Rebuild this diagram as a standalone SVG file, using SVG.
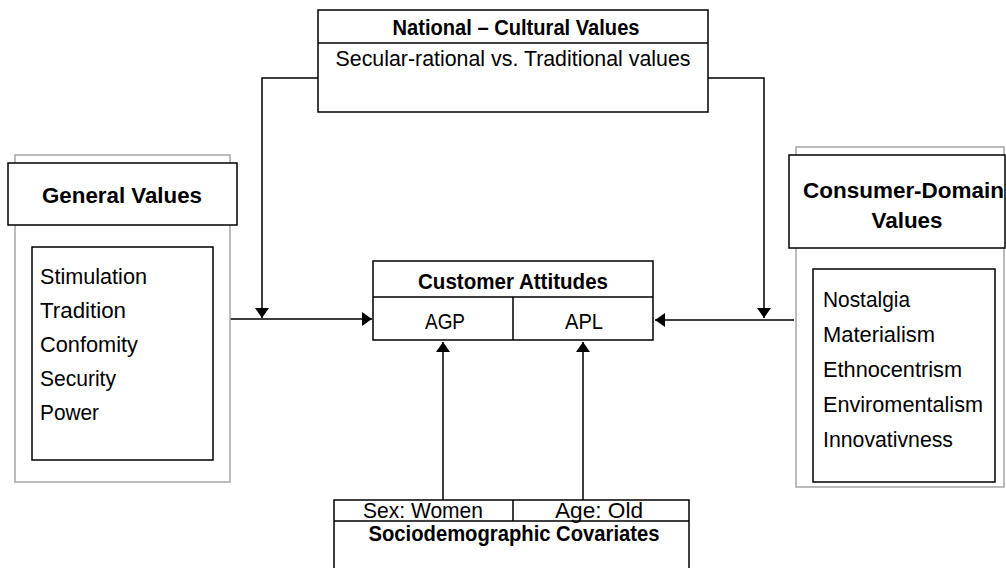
<svg xmlns="http://www.w3.org/2000/svg" width="1006" height="568" viewBox="0 0 1006 568">
  <style>
    .box { fill: #ffffff; stroke: #000000; stroke-width: 1.5; }
    .outer { fill: #ffffff; stroke: #a6a6a6; stroke-width: 1.5; }
    .ln { fill: none; stroke: #000000; stroke-width: 1.5; }
    text { font-family: "Liberation Sans", Arial, sans-serif; font-size: 22px; fill: #000000; }
    .b { font-weight: bold; }
    .c { text-anchor: middle; }
  </style>
  <defs>
    <marker id="arrow" viewBox="0 0 10 14" refX="10" refY="7" markerWidth="10" markerHeight="14" markerUnits="userSpaceOnUse" orient="auto">
      <path d="M0,0 L10,7 L0,14 Z" fill="#000000"/>
    </marker>
  </defs>

  <rect width="1006" height="568" fill="#ffffff"/>

  <!-- connectors -->
  <g id="connectors">
    <path class="ln" d="M318,78 H262 V318" marker-end="url(#arrow)"/>
    <path class="ln" d="M708,78 H764 V318" marker-end="url(#arrow)"/>
    <path class="ln" d="M230,319 H372" marker-end="url(#arrow)"/>
    <path class="ln" d="M794,320 H655" marker-end="url(#arrow)"/>
    <path class="ln" d="M443,500 V342" marker-end="url(#arrow)"/>
    <path class="ln" d="M583,500 V342" marker-end="url(#arrow)"/>
  </g>

  <!-- national-cultural values -->
  <g id="national-cultural">
    <rect class="box" x="318" y="10" width="390" height="102"/>
    <line class="ln" x1="318" y1="43" x2="708" y2="43"/>
    <text class="b c" x="516" y="35" textLength="247" lengthAdjust="spacingAndGlyphs">National – Cultural Values</text>
    <text class="c" x="513" y="66" textLength="355" lengthAdjust="spacingAndGlyphs">Secular-rational vs. Traditional values</text>
  </g>

  <!-- general values -->
  <g id="general-values">
    <rect class="outer" x="15" y="155" width="215" height="327"/>
    <rect class="box" x="8" y="163" width="229" height="62"/>
    <text class="b c" x="122" y="203" textLength="160" lengthAdjust="spacingAndGlyphs">General Values</text>
    <rect class="box" x="32" y="247" width="181" height="213"/>
    <text x="40" y="284" textLength="107" lengthAdjust="spacingAndGlyphs">Stimulation</text>
    <text x="40" y="318" textLength="86" lengthAdjust="spacingAndGlyphs">Tradition</text>
    <text x="40" y="352" textLength="98" lengthAdjust="spacingAndGlyphs">Confomity</text>
    <text x="40" y="386" textLength="76" lengthAdjust="spacingAndGlyphs">Security</text>
    <text x="40" y="420" textLength="59" lengthAdjust="spacingAndGlyphs">Power</text>
  </g>

  <!-- consumer-domain values -->
  <g id="consumer-domain">
    <rect class="outer" x="796" y="147" width="208" height="340"/>
    <rect class="box" x="789" y="155" width="216" height="93"/>
    <text class="b" x="803" y="198" textLength="201" lengthAdjust="spacingAndGlyphs">Consumer-Domain</text>
    <text class="b c" x="907" y="228" textLength="71" lengthAdjust="spacingAndGlyphs">Values</text>
    <rect class="box" x="813" y="269" width="182" height="213"/>
    <text x="823" y="307" textLength="87" lengthAdjust="spacingAndGlyphs">Nostalgia</text>
    <text x="823" y="342" textLength="112" lengthAdjust="spacingAndGlyphs">Materialism</text>
    <text x="823" y="377" textLength="139" lengthAdjust="spacingAndGlyphs">Ethnocentrism</text>
    <text x="823" y="412" textLength="160" lengthAdjust="spacingAndGlyphs">Enviromentalism</text>
    <text x="823" y="447" textLength="130" lengthAdjust="spacingAndGlyphs">Innovativness</text>
  </g>

  <!-- customer attitudes -->
  <g id="customer-attitudes">
    <rect class="box" x="373" y="261" width="280" height="79"/>
    <line class="ln" x1="373" y1="297" x2="653" y2="297"/>
    <line class="ln" x1="513" y1="297" x2="513" y2="340"/>
    <text class="b c" x="513" y="289" textLength="190" lengthAdjust="spacingAndGlyphs">Customer Attitudes</text>
    <text class="c" x="445" y="329" textLength="40" lengthAdjust="spacingAndGlyphs">AGP</text>
    <text class="c" x="584" y="329" textLength="38" lengthAdjust="spacingAndGlyphs">APL</text>
  </g>

  <!-- sociodemographic covariates -->
  <g id="sociodemographic">
    <rect class="box" x="334" y="500" width="355" height="75"/>
    <line class="ln" x1="334" y1="521" x2="689" y2="521"/>
    <line class="ln" x1="513" y1="500" x2="513" y2="521"/>
    <text class="c" x="423" y="518" textLength="120" lengthAdjust="spacingAndGlyphs">Sex: Women</text>
    <text class="c" x="599" y="518" textLength="88" lengthAdjust="spacingAndGlyphs">Age: Old</text>
    <text class="b c" x="514" y="541" textLength="291" lengthAdjust="spacingAndGlyphs">Sociodemographic Covariates</text>
  </g>
</svg>
